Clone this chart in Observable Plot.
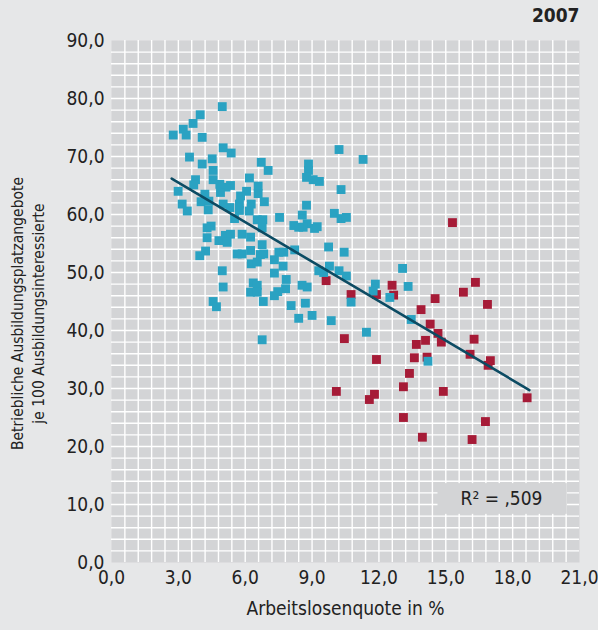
<!DOCTYPE html>
<html>
<head>
<meta charset="utf-8">
<script src="https://cdn.jsdelivr.net/npm/d3@7"></script>
<script src="https://cdn.jsdelivr.net/npm/@observablehq/plot@0.6"></script>
<style>
  html, body { margin: 0; padding: 0; background: #e6e7e8; }
  #chart svg { display: block; }
</style>
</head>
<body>
<div id="chart"></div>
<script>
// --- data ---
const title = "2007";
const xLabel = "Arbeitslosenquote in %";
const yLabelLines = ["Betriebliche Ausbildungsplatzangebote", "je 100 Ausbildungsinteressierte"];
const xTicks = [0, 3, 6, 9, 12, 15, 18, 21];
const yTicks = [0, 10, 20, 30, 40, 50, 60, 70, 80, 90];

// blue series (x = Arbeitslosenquote, y = Angebote je 100)
const blueX = [4.97,3.98,3.66,3.22,2.77,3.35,4.07,5.01,5.37,3.50,4.52,4.07,4.56,6.72,7.03,6.19,3.77,4.56,3.69,4.86,
  5.34,5.14,6.58,6.58,2.99,4.89,6.06,4.19,5.79,6.86,3.17,4.02,4.37,5.01,5.31,5.74,6.27,3.40,4.34,5.74,
  6.18,5.52,6.54,6.79,7.54,8.56,8.84,8.84,8.75,9.05,9.33,8.75,10.21,11.29,10.30,10.00,10.30,10.54,8.78,8.60,
  9.23,9.11,8.18,8.40,9.74,10.44,13.06,9.78,9.30,9.52,10.21,10.54,11.84,11.74,12.49,13.31,10.75,8.78,8.55,8.70,
  9.00,9.86,8.40,11.44,13.45,14.20,4.29,4.47,4.29,4.82,5.11,5.34,5.19,5.86,6.24,6.76,6.76,4.22,3.96,5.64,
  5.86,6.24,6.68,6.83,6.27,6.54,7.31,7.51,7.73,7.70,8.22,4.97,7.31,7.84,6.36,6.54,5.01,7.81,7.46,6.24,
  6.54,7.31,6.81,4.56,4.71,8.06,6.76];
const blueY = [78.6,77.2,75.7,74.7,73.7,73.7,73.3,71.5,70.6,69.9,69.6,68.7,67.6,69.0,67.6,66.3,66.0,66.0,65.1,65.2,
  65.0,64.7,64.9,63.6,64.0,63.8,64.0,63.5,63.2,62.2,61.8,62.2,62.3,61.8,61.2,61.8,61.8,60.6,60.8,60.7,
  60.6,59.3,59.1,59.1,59.5,59.9,68.7,67.6,66.4,66.0,65.7,61.6,71.2,69.5,64.3,60.2,59.3,59.5,58.4,57.8,
  57.9,57.6,58.1,57.8,54.4,53.5,50.7,51.1,50.3,50.0,50.3,49.4,48.0,46.8,45.7,47.6,44.9,47.5,47.8,44.7,
  42.6,41.7,42.1,39.7,41.9,34.7,57.7,58.0,56.0,55.5,56.4,56.6,55.2,56.6,56.1,57.7,54.8,53.7,52.9,53.2,
  53.2,53.8,53.1,53.2,51.5,51.8,52.2,53.5,53.5,51.1,53.9,50.3,49.9,48.8,48.2,47.8,47.5,47.2,46.7,46.6,
  46.6,46.0,45.0,45.0,44.1,44.3,38.4];

// red series
const redX = [15.30,16.33,15.79,14.52,16.87,13.89,14.30,14.65,14.80,14.09,13.68,13.59,14.16,11.89,13.37,13.10,14.89,10.09,11.80,11.57,
  13.10,13.95,16.27,16.09,17.00,16.90,18.65,16.78,16.18,9.63,11.89,12.59,12.66,10.75,10.45];
const redY = [58.6,48.3,46.6,45.5,44.5,43.6,41.1,39.5,38.0,38.3,37.6,35.3,35.4,35.0,32.6,30.3,29.5,29.5,29.0,28.1,
  25.0,21.6,38.5,35.9,34.8,34.0,28.4,24.3,21.2,48.6,46.2,47.8,46.1,46.2,38.6];

// regression (as printed): y = intercept + slope * x over the x-range of the fit
const regIntercept = 72.3;
const regSlope = -2.27;
const regXRange = [2.7, 18.75];
const r2Text = "R\u00b2 = ,509";
const r2Box = {x1: 14.65, x2: 20.45, y1: 8.3, y2: 13.6, xText: 17.5, yText: 11.0};

// --- build ---
const blue = blueX.map((x, i) => ({x, y: blueY[i]}));
const red = redX.map((x, i) => ({x, y: redY[i]}));
const reg = regXRange.map(x => ({x, y: regIntercept + regSlope * x}));
const gridXVals = d3.range(1, 35).map(i => +(i * 0.6).toFixed(2));
const gridYVals = d3.range(1, 45).map(i => i * 2);
const fmt = d => d.toFixed(1).replace(".", ",");

const FONT = "'DejaVu Sans Condensed', 'Liberation Sans', sans-serif";
const PLOTBG = "#d3d4d6";

const chart = Plot.plot({
  width: 598,
  height: 630,
  marginLeft: 111,
  marginRight: 19,
  marginTop: 40,
  marginBottom: 68,
  style: {background: "#e6e7e8", fontFamily: FONT, color: "#222"},
  x: {domain: [0, 21]},
  y: {domain: [0, 90]},
  marks: [
    Plot.frame({fill: PLOTBG, stroke: "none"}),
    Plot.gridX(gridXVals, {stroke: "white", strokeOpacity: 1, strokeWidth: 1.4}),
    Plot.gridY(gridYVals, {stroke: "white", strokeOpacity: 1, strokeWidth: 1.4}),
    Plot.rect([r2Box], {x1: "x1", x2: "x2", y1: "y1", y2: "y2", fill: PLOTBG}),
    Plot.text([r2Box], {x: "xText", y: "yText", text: () => r2Text, fontSize: 19, fill: "#222"}),
    Plot.dot(red, {x: "x", y: "y", symbol: "square", r: 5, fill: "#a61b37", stroke: "none"}),
    Plot.dot(blue, {x: "x", y: "y", symbol: "square", r: 5, fill: "#2aa2c2", stroke: "none"}),
    Plot.line(reg, {x: "x", y: "y", stroke: "#0c4b63", strokeWidth: 2.6}),
    Plot.axisX(xTicks, {tickSize: 0, tickPadding: 8, tickFormat: fmt, fontSize: 19, label: null}),
    Plot.axisY(yTicks, {tickSize: 0, tickPadding: 7, tickFormat: fmt, fontSize: 19, label: null}),
    Plot.text([xLabel], {frameAnchor: "bottom", dy: 52, text: d => d, fontSize: 19, fill: "#222"}),
    Plot.text([yLabelLines.join("\n")], {frameAnchor: "left", dx: -85, dy: 12, rotate: -90, textAnchor: "middle", text: d => d, fontSize: 15.5, lineHeight: 1.4, fill: "#222"}),
    Plot.text([title], {frameAnchor: "top-right", dy: -32, text: d => d, fontSize: 19, fontWeight: "bold", fill: "#222", textAnchor: "end"})
  ]
});
document.getElementById("chart").appendChild(chart);
</script>
</body>
</html>
